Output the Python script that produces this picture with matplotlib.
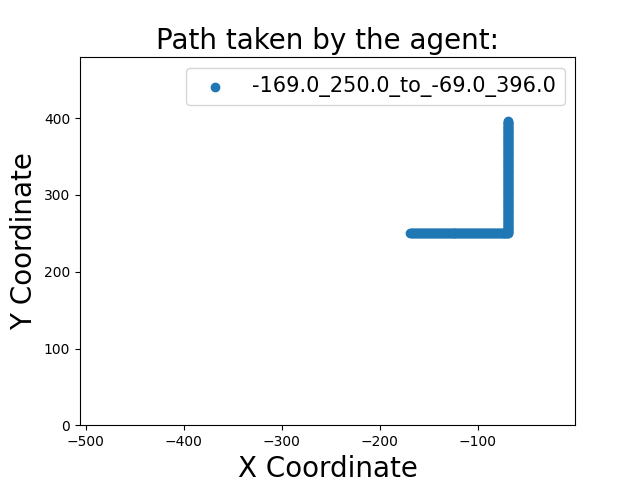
import matplotlib
matplotlib.use("Agg")
import matplotlib.pyplot as plt

# agent path: start, corner, end (one unit per step)
start = (-169.0, 250.0)
corner = (-69.0, 250.0)
end = (-69.0, 396.0)

path_x = [float(x) for x in range(int(start[0]), int(corner[0]) + 1)] + \
         [corner[0]] * int(end[1] - corner[1])
path_y = [start[1]] * int(corner[0] - start[0] + 1) + \
         [float(y) for y in range(int(corner[1]) + 1, int(end[1]) + 1)]

label = f"{start[0]}_{start[1]}_to_{end[0]}_{end[1]}"

fig, ax = plt.subplots(figsize=(6.39, 4.78), dpi=100)
ax.scatter(path_x, path_y, label=label)
ax.set_xlim(-506, -1)
ax.set_ylim(0, 479)
ax.set_title("Path taken by the agent:", fontsize=20)
ax.set_xlabel("X Coordinate", fontsize=20)
ax.set_ylabel("Y Coordinate", fontsize=20)
ax.legend(fontsize=15, loc="upper right")

plt.savefig("out.png", dpi=100)
